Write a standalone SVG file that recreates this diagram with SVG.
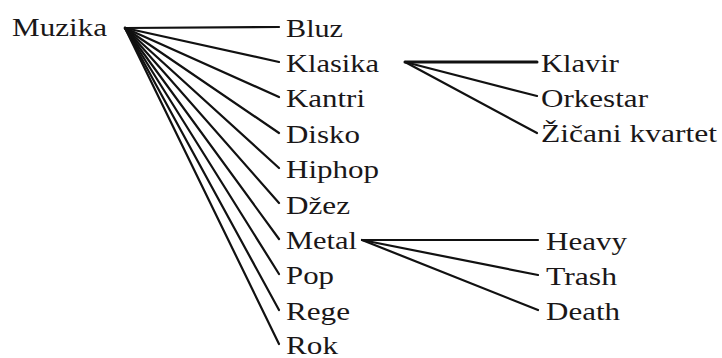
<svg xmlns="http://www.w3.org/2000/svg" width="722" height="358" viewBox="0 0 722 358">
  <style>
    text { font-family: "Liberation Serif", Tinos, "Times New Roman", "Nimbus Roman", FreeSerif, serif; font-size: 25px; fill: #1a1718; }
    .edge { stroke: #111; stroke-width: 2.2; fill: none; stroke-linecap: round; }
    .thick { stroke-width: 3; }
  </style>
  <rect width="722" height="358" fill="#fff"/>

  <!-- connectors -->
  <g id="connectors">
    <!-- Muzika fan -->
    <line class="edge" x1="125" y1="28" x2="279" y2="27"/>
    <line class="edge" x1="125" y1="28" x2="279" y2="62"/>
    <line class="edge" x1="125" y1="28" x2="279" y2="97"/>
    <line class="edge" x1="125" y1="28" x2="279" y2="133"/>
    <line class="edge" x1="125" y1="28" x2="279" y2="168"/>
    <line class="edge" x1="125" y1="28" x2="279" y2="203"/>
    <line class="edge" x1="125" y1="28" x2="279" y2="239"/>
    <line class="edge" x1="125" y1="28" x2="279" y2="274"/>
    <line class="edge" x1="125" y1="28" x2="279" y2="310"/>
    <line class="edge" x1="125" y1="28" x2="279" y2="344"/>
    <!-- Klasika fan -->
    <line class="edge thick" x1="405" y1="62" x2="537" y2="62"/>
    <line class="edge" x1="405" y1="62" x2="537" y2="96"/>
    <line class="edge" x1="405" y1="62" x2="537" y2="133"/>
    <!-- Metal fan -->
    <line class="edge" x1="362" y1="240" x2="538" y2="240"/>
    <line class="edge" x1="362" y1="240" x2="538" y2="275"/>
    <line class="edge" x1="362" y1="240" x2="538" y2="310"/>
  </g>

  <g id="muzika"><text x="12" y="36" textLength="95" lengthAdjust="spacingAndGlyphs">Muzika</text></g>

  <g id="bluz"><text x="286" y="36.5" textLength="57" lengthAdjust="spacingAndGlyphs">Bluz</text></g>
  <g id="klasika"><text x="286" y="72" textLength="93" lengthAdjust="spacingAndGlyphs">Klasika</text></g>
  <g id="kantri"><text x="286" y="107.3" textLength="79" lengthAdjust="spacingAndGlyphs">Kantri</text></g>
  <g id="disko"><text x="286" y="142.7" textLength="74" lengthAdjust="spacingAndGlyphs">Disko</text></g>
  <g id="hiphop"><text x="286" y="178" textLength="93" lengthAdjust="spacingAndGlyphs">Hiphop</text></g>
  <g id="dzez"><text x="286" y="213.5" textLength="64" lengthAdjust="spacingAndGlyphs">Džez</text></g>
  <g id="metal"><text x="286" y="249" textLength="71" lengthAdjust="spacingAndGlyphs">Metal</text></g>
  <g id="pop"><text x="286" y="284.3" textLength="48" lengthAdjust="spacingAndGlyphs">Pop</text></g>
  <g id="rege"><text x="286" y="319.5" textLength="64" lengthAdjust="spacingAndGlyphs">Rege</text></g>
  <g id="rok"><text x="286" y="354" textLength="52" lengthAdjust="spacingAndGlyphs">Rok</text></g>

  <g id="klavir"><text x="541" y="72" textLength="78" lengthAdjust="spacingAndGlyphs">Klavir</text></g>
  <g id="orkestar"><text x="541" y="106.5" textLength="107" lengthAdjust="spacingAndGlyphs">Orkestar</text></g>
  <g id="zicani-kvartet"><text x="541" y="142" textLength="176" lengthAdjust="spacingAndGlyphs">Žičani kvartet</text></g>

  <g id="heavy"><text x="546" y="249.5" textLength="81" lengthAdjust="spacingAndGlyphs">Heavy</text></g>
  <g id="trash"><text x="546" y="284.5" textLength="71" lengthAdjust="spacingAndGlyphs">Trash</text></g>
  <g id="death"><text x="546" y="319.5" textLength="74" lengthAdjust="spacingAndGlyphs">Death</text></g>
</svg>
